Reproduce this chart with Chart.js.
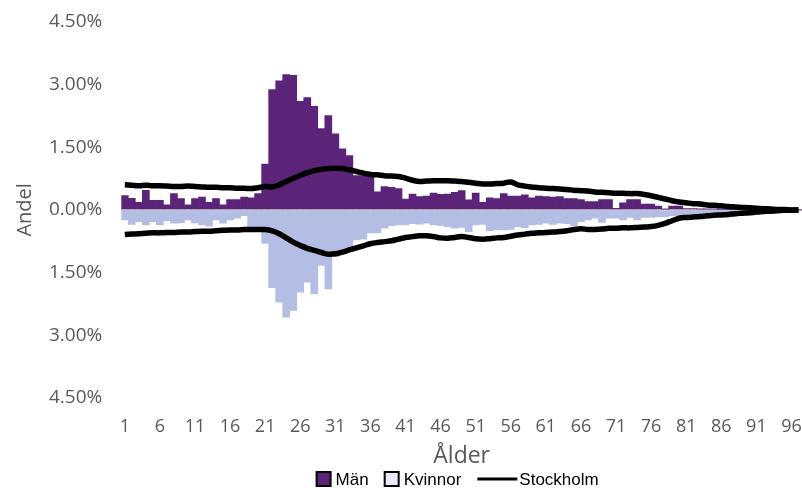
<!DOCTYPE html>
<html>
<head>
<meta charset="utf-8">
<script src="https://cdn.jsdelivr.net/npm/chart.js@4.4.1/dist/chart.umd.min.js"></script>
<style>
  html, body { margin: 0; padding: 0; background: #fff; }
</style>
</head>
<body>
<canvas id="myChart" width="802" height="488"></canvas>
<script>
const ages = [1, 2, 3, 4, 5, 6, 7, 8, 9, 10, 11, 12, 13, 14, 15, 16, 17, 18, 19, 20,
    21, 22, 23, 24, 25, 26, 27, 28, 29, 30, 31, 32, 33, 34, 35, 36, 37, 38, 39, 40,
    41, 42, 43, 44, 45, 46, 47, 48, 49, 50, 51, 52, 53, 54, 55, 56, 57, 58, 59, 60,
    61, 62, 63, 64, 65, 66, 67, 68, 69, 70, 71, 72, 73, 74, 75, 76, 77, 78, 79, 80,
    81, 82, 83, 84, 85, 86, 87, 88, 89, 90, 91, 92, 93, 94, 95, 96, 97];

const xTickLabels = ['1', '6', '11', '16', '21', '26', '31', '36', '41', '46', '51', '56', '61', '66', '71', '76', '81', '86', '91', '96'];
const yTicks = [-4.5, -3, -1.5, 0, 1.5, 3, 4.5];

// andel i procent per ålder
const man = [0.34, 0.28, 0.18, 0.47, 0.23, 0.23, 0.12, 0.39, 0.27, 0.12,
    0.27, 0.31, 0.18, 0.27, 0.12, 0.25, 0.25, 0.31, 0.29, 0.39,
    1.10, 2.88, 3.09, 3.24, 3.22, 2.60, 2.69, 2.48, 1.95, 2.26,
    1.82, 1.46, 1.30, 0.82, 0.82, 0.80, 0.43, 0.56, 0.54, 0.51,
    0.26, 0.38, 0.32, 0.33, 0.40, 0.37, 0.38, 0.42, 0.46, 0.24,
    0.40, 0.18, 0.29, 0.27, 0.39, 0.33, 0.33, 0.36, 0.29, 0.33,
    0.32, 0.31, 0.32, 0.27, 0.27, 0.25, 0.20, 0.20, 0.25, 0.25,
    0.04, 0.17, 0.25, 0.25, 0.14, 0.14, 0.09, 0.02, 0.09, 0.09,
    0.03, 0.03, 0.02, 0.02, 0.02, 0.01, 0.01, 0.01, 0.01, 0.00,
    0.00, 0.00, 0.00, 0.00, 0.00, 0.00, 0.00];

const kvinnor = [0.24, 0.35, 0.28, 0.36, 0.28, 0.36, 0.26, 0.32, 0.31, 0.24,
    0.31, 0.36, 0.39, 0.24, 0.32, 0.24, 0.20, 0.14, 0.40, 0.44,
    0.80, 1.86, 2.21, 2.57, 2.41, 1.97, 1.73, 2.01, 1.33, 1.89,
    1.12, 1.02, 0.90, 0.72, 0.70, 0.55, 0.55, 0.44, 0.38, 0.36,
    0.36, 0.33, 0.34, 0.32, 0.36, 0.37, 0.40, 0.44, 0.42, 0.52,
    0.36, 0.35, 0.50, 0.48, 0.48, 0.47, 0.40, 0.43, 0.36, 0.35,
    0.32, 0.35, 0.32, 0.33, 0.38, 0.28, 0.24, 0.20, 0.30, 0.20,
    0.20, 0.24, 0.18, 0.24, 0.18, 0.18, 0.17, 0.17, 0.14, 0.14,
    0.12, 0.11, 0.10, 0.09, 0.08, 0.07, 0.06, 0.05, 0.04, 0.03,
    0.02, 0.01, 0.01, 0.00, 0.00, 0.00, 0.00];

const sthlmMan = [0.60, 0.59, 0.58, 0.59, 0.58, 0.58, 0.57, 0.56, 0.56, 0.57,
    0.56, 0.55, 0.54, 0.54, 0.53, 0.53, 0.52, 0.52, 0.51, 0.53,
    0.56, 0.55, 0.60, 0.68, 0.76, 0.83, 0.89, 0.94, 0.97, 0.99,
    1.00, 0.99, 0.96, 0.92, 0.88, 0.85, 0.84, 0.82, 0.81, 0.80,
    0.76, 0.71, 0.68, 0.69, 0.70, 0.70, 0.70, 0.69, 0.68, 0.66,
    0.64, 0.62, 0.62, 0.63, 0.64, 0.67, 0.60, 0.57, 0.55, 0.53,
    0.52, 0.51, 0.50, 0.49, 0.47, 0.46, 0.45, 0.43, 0.42, 0.41,
    0.40, 0.40, 0.39, 0.39, 0.37, 0.34, 0.30, 0.26, 0.22, 0.19,
    0.17, 0.15, 0.14, 0.12, 0.11, 0.10, 0.08, 0.07, 0.06, 0.05,
    0.04, 0.03, 0.02, 0.01, 0.01, 0.00, 0.00];

const sthlmKvinnor = [0.59, 0.58, 0.57, 0.56, 0.55, 0.55, 0.54, 0.54, 0.53, 0.53,
    0.52, 0.51, 0.51, 0.50, 0.49, 0.48, 0.48, 0.47, 0.47, 0.47,
    0.47, 0.50, 0.57, 0.67, 0.77, 0.85, 0.92, 0.97, 1.02, 1.06,
    1.05, 1.01, 0.96, 0.91, 0.86, 0.81, 0.78, 0.76, 0.74, 0.70,
    0.66, 0.64, 0.62, 0.62, 0.64, 0.67, 0.68, 0.66, 0.64, 0.66,
    0.69, 0.70, 0.69, 0.67, 0.66, 0.63, 0.60, 0.58, 0.56, 0.55,
    0.54, 0.53, 0.52, 0.50, 0.47, 0.45, 0.47, 0.47, 0.46, 0.44,
    0.44, 0.43, 0.43, 0.42, 0.41, 0.40, 0.37, 0.32, 0.26, 0.20,
    0.18, 0.17, 0.16, 0.14, 0.13, 0.12, 0.11, 0.09, 0.08, 0.07,
    0.05, 0.04, 0.03, 0.02, 0.01, 0.01, 0.00];

const MAN_COLOR = '#5c2479';
const KVINNA_COLOR = '#b4bde3';
const GREY = '#595959';

// kvinnor ritas nedåt
const kvinnorNeg = kvinnor.map(v => -v);
const sthlmKvinnorNeg = sthlmKvinnor.map(v => -v);

const legendPlugin = {
    id: 'bottomLegend',
    afterDraw(chart) {
        const ctx = chart.ctx;
        const items = [
            {text: 'Män', type: 'box', fill: MAN_COLOR},
            {text: 'Kvinnor', type: 'box', fill: '#efe9f7'},
            {text: 'Stockholm', type: 'line'}
        ];
        ctx.save();
        ctx.font = '17px "Liberation Sans", Arial, sans-serif';
        ctx.textBaseline = 'middle';
        ctx.fillStyle = '#000';
        let total = 0;
        for (let it of items) {
            it.sym = it.type === 'box' ? 14 : 40;
            it.gap = it.type === 'box' ? 5 : 2;
            it.w = it.sym + it.gap + ctx.measureText(it.text).width;
            total += it.w;
        }
        total += 16 * (items.length - 1);
        const area = chart.chartArea;
        let x = (area.left + area.right) / 2 - 4 - total / 2;
        const y = 479;
        for (let it of items) {
            if (it.type === 'box') {
                ctx.fillStyle = it.fill;
                ctx.fillRect(x, y - 7, 14, 14);
                ctx.strokeStyle = '#000';
                ctx.lineWidth = 2;
                ctx.strokeRect(x, y - 7, 14, 14);
            } else {
                ctx.strokeStyle = '#000';
                ctx.lineWidth = 3;
                ctx.beginPath();
                ctx.moveTo(x, y);
                ctx.lineTo(x + it.sym, y);
                ctx.stroke();
            }
            ctx.fillStyle = '#000';
            ctx.fillText(it.text, x + it.sym + it.gap, y + 1);
            x += it.w + 16;
        }
        ctx.restore();
    }
};

const ctxL = document.getElementById('myChart').getContext('2d');
const myChart = new Chart(ctxL, {
    type: 'bar',
    data: {
        labels: ages,
        datasets: [
            {
                type: 'line',
                label: 'Stockholm',
                data: sthlmMan,
                borderColor: '#000',
                borderWidth: 5.5,
                pointRadius: 0,
                tension: 0.4,
                order: 0
            },
            {
                type: 'line',
                label: 'Stockholm',
                data: sthlmKvinnorNeg,
                borderColor: '#000',
                borderWidth: 5.5,
                pointRadius: 0,
                tension: 0.4,
                order: 0
            },
            {
                label: 'Män',
                data: man,
                backgroundColor: MAN_COLOR,
                barPercentage: 1,
                categoryPercentage: 1,
                grouped: false,
                order: 1
            },
            {
                label: 'Kvinnor',
                data: kvinnorNeg,
                backgroundColor: KVINNA_COLOR,
                barPercentage: 1,
                categoryPercentage: 1,
                grouped: false,
                order: 1
            }
        ]
    },
    options: {
        responsive: false,
        animation: false,
        layout: {padding: {top: 22, left: 13, right: 0, bottom: 18}},
        plugins: {
            legend: {display: false},
            tooltip: {enabled: false}
        },
        scales: {
            x: {
                offset: true,
                border: {display: false},
                grid: {
                    display: true,
                    drawOnChartArea: false,
                    drawTicks: true,
                    tickLength: 18,
                    tickColor: 'rgba(0,0,0,0)',
                    color: 'rgba(0,0,0,0)'
                },
                ticks: {
                    autoSkip: false,
                    maxRotation: 0,
                    padding: 0,
                    color: GREY,
                    font: {family: '"Open Sans"', size: 18},
                    callback: function (value) {
                        const lab = String(this.getLabelForValue(value));
                        return xTickLabels.includes(lab) ? lab : '';
                    }
                },
                title: {
                    display: true,
                    text: 'Ålder',
                    color: GREY,
                    font: {family: '"Open Sans"', size: 23},
                    padding: {top: 5, bottom: 0}
                }
            },
            y: {
                min: yTicks[0],
                max: yTicks[yTicks.length - 1],
                border: {display: false},
                grid: {
                    drawTicks: true,
                    tickLength: 19,
                    tickColor: 'rgba(0,0,0,0)',
                    color: (c) => c.tick && c.tick.value === 0 ? '#c8c8c8' : 'rgba(0,0,0,0)',
                    lineWidth: 2
                },
                afterBuildTicks: (axis) => {
                    axis.ticks = yTicks.map(v => ({value: v}));
                },
                ticks: {
                    padding: 0,
                    color: GREY,
                    font: {family: '"Open Sans"', size: 19},
                    callback: (v) => Math.abs(v).toFixed(2) + '%'
                },
                title: {
                    display: true,
                    text: 'Andel',
                    color: GREY,
                    font: {family: '"Open Sans"', size: 20},
                    padding: {top: 0, bottom: 12}
                }
            }
        }
    },
    plugins: [legendPlugin]
});
</script>
</body>
</html>
